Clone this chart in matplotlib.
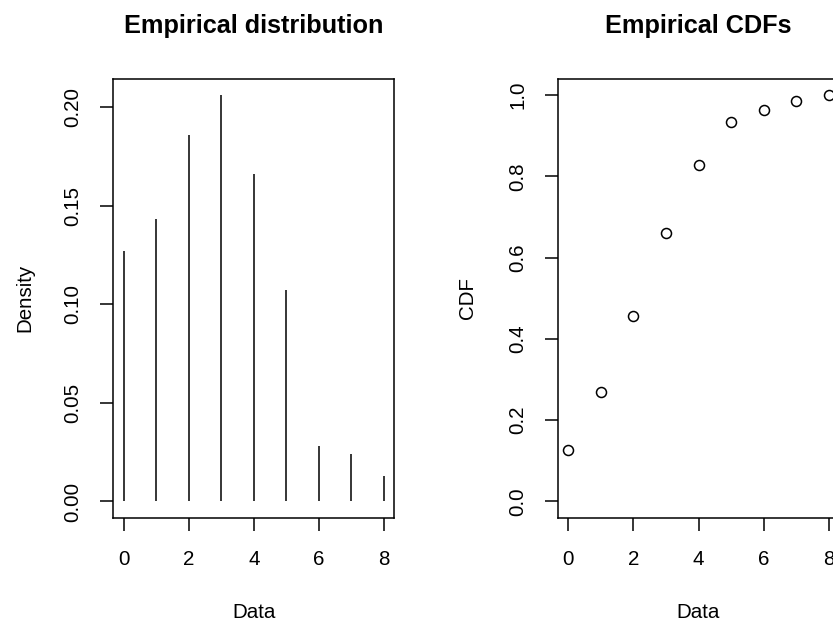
import numpy as np
import matplotlib
matplotlib.use("Agg")
import matplotlib.pyplot as plt

# Observed counts summarised as relative frequencies per value
values = [0, 1, 2, 3, 4, 5, 6, 7, 8]
density = [0.127, 0.143, 0.186, 0.206, 0.166, 0.107, 0.028, 0.024, 0.013]
cdf = list(np.cumsum(density))

x_ticks = [0, 2, 4, 6, 8]
density_ticks = [0.00, 0.05, 0.10, 0.15, 0.20]
density_tick_labels = ["0.00", "0.05", "0.10", "0.15", "0.20"]
cdf_ticks = [0.0, 0.2, 0.4, 0.6, 0.8, 1.0]
cdf_tick_labels = ["0.0", "0.2", "0.4", "0.6", "0.8", "1.0"]

plt.rcParams["font.family"] = ["Liberation Sans", "DejaVu Sans"]

W, H = 833, 621
fig = plt.figure(figsize=(W / 100, H / 100), dpi=100)
fig.patch.set_facecolor("white")

ax_w, ax_h = 281 / W, 438.7 / H
ax_b = (H - 517.7) / H
ax1 = fig.add_axes([113.3 / W, ax_b, ax_w, ax_h])
ax2 = fig.add_axes([558.0 / W, ax_b, ax_w, ax_h])

LW = 1.1
FS = 14.8
TITLE_FS = 18.2


def r_extend(lo, hi):
    pad = 0.04 * (hi - lo)
    return lo - pad, hi + pad


def style_axes(ax, yticks, ylabels, title, ylabel, ylabel_x):
    ax.set_xlim(*r_extend(0, 8))
    ax.set_xticks(x_ticks)
    ax.set_xticklabels([str(t) for t in x_ticks])
    ax.set_yticks(yticks)
    ax.set_yticklabels(ylabels)
    for sp in ax.spines.values():
        sp.set_linewidth(LW)
        sp.set_color("black")
    ax.tick_params(direction="out", length=9.5, width=LW, labelsize=FS,
                   colors="black")
    ax.tick_params(axis="x", pad=14)
    ax.tick_params(axis="y", labelrotation=90, pad=12.5)
    for lab in ax.get_yticklabels():
        lab.set_va("center")
    ax.set_title(title, fontsize=TITLE_FS, fontweight="bold", pad=33)
    ax.set_xlabel("Data", fontsize=FS, va="baseline")
    ax.xaxis.set_label_coords(0.5, (517.7 - 618) / 438.7)
    ax.set_ylabel(ylabel, fontsize=FS, va="baseline")
    ax.yaxis.set_label_coords(ylabel_x, 0.5)


# Left panel: probability mass as vertical lines
ax1.vlines(values, 0, density, colors="black", linewidth=LW)
ax1.set_ylim(*r_extend(0, max(density)))
style_axes(ax1, density_ticks, density_tick_labels,
           "Empirical distribution", "Density", (30 - 113.3) / 281)

# Right panel: empirical cumulative distribution as open circles
ax2.plot(values, cdf, linestyle="none", marker="o", markersize=7.2,
         markerfacecolor="none", markeredgecolor="black", markeredgewidth=LW,
         clip_on=False)
ax2.set_ylim(*r_extend(0, 1))
style_axes(ax2, cdf_ticks, cdf_tick_labels,
           "Empirical CDFs", "CDF", (473.3 - 558) / 281)

fig.savefig("out.png", dpi=100, facecolor="white")
